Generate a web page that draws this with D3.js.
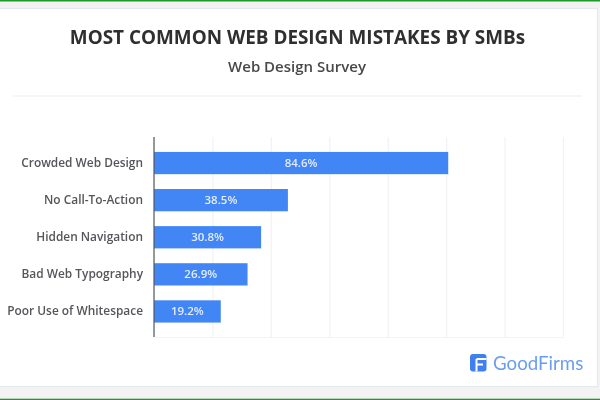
<!DOCTYPE html>
<html>
<head>
<meta charset="utf-8">
<script src="https://cdnjs.cloudflare.com/ajax/libs/d3/7.8.5/d3.min.js"></script>
<style>
  html, body { margin: 0; padding: 0; background: #f3f3f4; }
  svg { display: block; filter: blur(0.45px); }
</style>
</head>
<body>
<svg id="chart"></svg>
<script>
const categories = ["Crowded Web Design", "No Call-To-Action", "Hidden Navigation", "Bad Web Typography", "Poor Use of Whitespace"];
const values = [84.6, 38.5, 30.8, 26.9, 19.2];
const gridTicks = [0, 16.8, 33.6, 50.4, 67.2, 84, 100.8, 117.6];

const width = 600, height = 400;
const svg = d3.select("#chart").attr("width", width).attr("height", height);

// page frame
svg.append("rect").attr("width", width).attr("height", height).attr("fill", "#f3f3f4");
svg.append("rect").attr("width", width).attr("height", 1.5).attr("fill", "#1f9a2a");
svg.append("rect").attr("y", 398.7).attr("width", width).attr("height", 1.3).attr("fill", "#1f9a2a");
svg.append("rect").attr("x", -2).attr("y", 8.5).attr("width", 599.5).attr("height", 378)
  .attr("fill", "#fff").attr("stroke", "#e4e8f0").attr("stroke-width", 1.2);

svg.append("text").attr("x", 297.5).attr("y", 44).attr("text-anchor", "middle")
  .attr("font-family", "Open Sans").attr("font-weight", 700).attr("font-size", 18.9)
  .attr("fill", "#2f2f31").text("MOST COMMON WEB DESIGN MISTAKES BY SMBs");
svg.append("text").attr("x", 297).attr("y", 71.5).attr("text-anchor", "middle")
  .attr("font-family", "Open Sans").attr("font-weight", 600).attr("font-size", 15)
  .attr("fill", "#48484b").text("Web Design Survey");
svg.append("line").attr("x1", 13).attr("x2", 582).attr("y1", 96).attr("y2", 96)
  .attr("stroke", "#e9edf2").attr("stroke-width", 1.2);

const x = d3.scaleLinear().domain([0, 117.6]).range([154, 563]);
const y = d3.scaleBand().domain(categories).range([144.5, 330]).paddingInner(0.4).paddingOuter(0.2);

// gridlines, plot box is taller than the band range
svg.append("g").attr("transform", "translate(0,337)")
  .call(d3.axisBottom(x).tickValues(gridTicks).tickSize(-200).tickFormat(""))
  .call(g => g.select(".domain").attr("stroke", "#f3f4f6"))
  .call(g => g.selectAll(".tick line").attr("stroke", "#f1f2f4").attr("stroke-width", 1.2));

svg.append("g").selectAll("rect").data(values).join("rect")
  .attr("x", x(0))
  .attr("y", (d, i) => y(categories[i]))
  .attr("width", d => x(d) - x(0))
  .attr("height", y.bandwidth())
  .attr("fill", "#4285f4");

svg.append("g").selectAll("text").data(values).join("text")
  .attr("x", d => (x(d) + x(0)) / 2)
  .attr("y", (d, i) => y(categories[i]) + y.bandwidth() / 2)
  .attr("dy", "0.35em").attr("text-anchor", "middle")
  .attr("font-family", "Open Sans").attr("font-weight", 600).attr("font-size", 11.5)
  .attr("fill", "#e4edfd").text(d => d.toFixed(1) + "%");

// category axis
svg.append("g").attr("transform", "translate(154,0)")
  .call(d3.axisLeft(y).tickSize(0).tickPadding(11))
  .call(g => g.select(".domain").attr("d", "M0,137V337").attr("stroke", "#55585c").attr("stroke-width", 1.2))
  .call(g => g.selectAll("text").attr("font-family", "Open Sans").attr("font-weight", 600)
    .attr("font-size", 11.9).attr("fill", "#55565a"));

// GoodFirms logo
const logo = svg.append("g").attr("transform", "translate(470,354)");
logo.append("rect").attr("width", 16.5).attr("height", 17.5).attr("rx", 3).attr("fill", "#3f80ee");
logo.append("path").attr("d", "M6.5,5H16.5M6.5,5V17.5M6.5,10.5H13").attr("fill", "none")
  .attr("stroke", "#fff").attr("stroke-width", 2);
svg.append("text").attr("x", 493).attr("y", 370).attr("font-family", "Lato").attr("font-size", 18.7)
  .attr("fill", "#6a9df0").text("GoodFirms");
</script>
</body>
</html>
